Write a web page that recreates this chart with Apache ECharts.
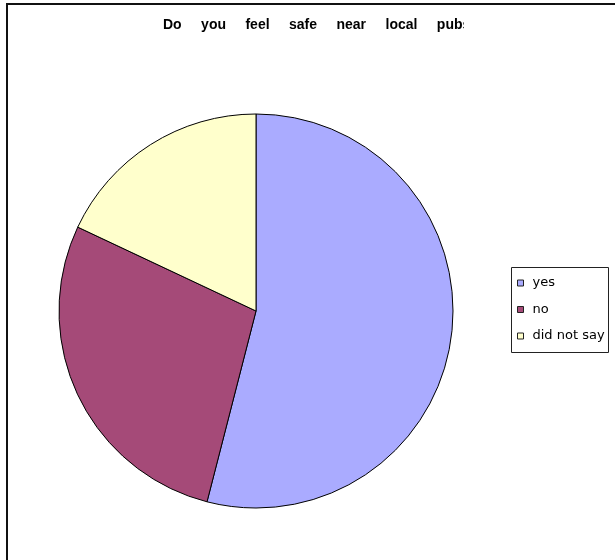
<!DOCTYPE html>
<html>
<head>
<meta charset="utf-8">
<script src="https://cdn.jsdelivr.net/npm/echarts@6/dist/echarts.min.js"></script>
<style>html,body{margin:0;padding:0;background:#fff;}#c{width:615px;height:560px;}</style>
</head>
<body>
<div id="c"></div>
<script>
const titleText = 'Do     you     feel     safe     near     local     pubs';
const categories = ['yes', 'no', 'did not say'];
const values = [54, 28, 18];
const colors = ['#aaabff', '#a54a78', '#ffffcc'];

const chart = echarts.init(document.getElementById('c'), null, {renderer: 'canvas'});
chart.setOption({
  backgroundColor: '#ffffff',
  animation: false,
  legend: {
    orient: 'vertical',
    left: 517,
    top: 276,
    padding: 0,
    itemWidth: 6,
    itemHeight: 6,
    itemGap: 12.5,
    icon: 'rect',
    itemStyle: {borderColor: '#222', borderWidth: 1},
    textStyle: {fontFamily: 'DejaVu Sans, sans-serif', fontSize: 13, color: '#000', lineHeight: 14, padding: [0, 0, 0, 4]},
    data: categories
  },
  graphic: [
    {type: 'rect', silent: true, z: 0, shape: {x: 7, y: 4, width: 700, height: 700},
     style: {fill: 'none', stroke: '#111', lineWidth: 2}},
    {type: 'rect', silent: true, z: 0, shape: {x: 511.5, y: 267.5, width: 97, height: 85},
     style: {fill: '#fff', stroke: '#222', lineWidth: 1}},
    {type: 'text', silent: true, z: 10, x: 163, y: 25,
     style: {text: titleText, font: 'bold 14px "Liberation Sans", Arial, sans-serif', fill: '#000', verticalAlign: 'middle', align: 'left'}},
    {type: 'rect', silent: true, z: 11, shape: {x: 464, y: 12, width: 40, height: 26},
     style: {fill: '#fff'}}
  ],
  series: [{
    type: 'pie',
    center: [256, 311],
    radius: 197,
    startAngle: 90,
    clockwise: true,
    label: {show: false},
    labelLine: {show: false},
    emphasis: {disabled: true},
    itemStyle: {borderColor: '#000', borderWidth: 1},
    data: categories.map((c, i) => ({name: c, value: values[i], itemStyle: {color: colors[i]}}))
  }]
});
</script>
</body>
</html>
